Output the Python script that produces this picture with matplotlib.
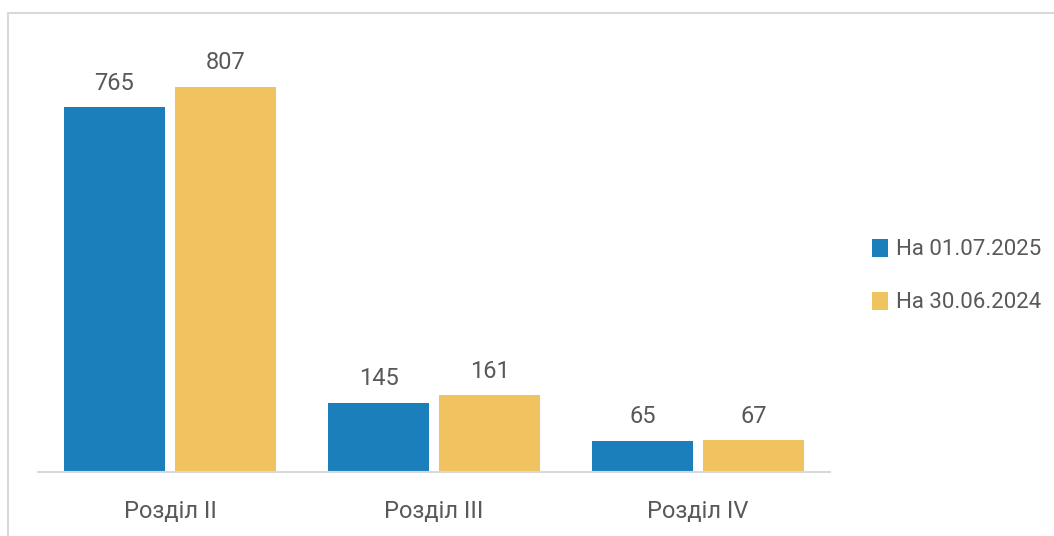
import matplotlib
matplotlib.use("Agg")
import matplotlib.pyplot as plt
from matplotlib.patches import Rectangle
import numpy as np

categories = ["Розділ II", "Розділ III", "Розділ IV"]
series_names = ["На 01.07.2025", "На 30.06.2024"]
values_2025 = [765, 145, 65]
values_2024 = [807, 161, 67]

colors = ["#1a7fba", "#f0c260"]
text_color = "#595959"
fonts = ["Roboto", "DejaVu Sans"]
plt.rcParams['font.family'] = fonts
plt.rcParams['font.stretch'] = 'condensed'

fig = plt.figure(figsize=(10.54, 5.36), dpi=100)
W, H = 1054, 536
# outer border
fig.add_artist(Rectangle((8 / W, -0.1), 1.2, (536 - 13) / H + 0.1, transform=fig.transFigure,
                         fill=False, edgecolor="#d9d9d9", linewidth=1.5))

ax = fig.add_axes([38 / W, (536 - 472) / H, 792 / W, 452 / H])
x = np.arange(len(categories))
bw = 0.383
off = 0.21
b1 = ax.bar(x - off, values_2025, bw, color=colors[0], label=series_names[0])
b2 = ax.bar(x + off, values_2024, bw, color=colors[1], label=series_names[1])
ax.set_xlim(-0.5, 2.5)
ax.set_ylim(0, 452 / 0.4771)
for bars in (b1, b2):
    for r in bars:
        ax.annotate(f"{int(r.get_height())}", (r.get_x() + r.get_width() / 2, r.get_height()),
                    xytext=(0, 9), textcoords="offset points", ha="center", va="bottom",
                    fontsize=17, color=text_color)
for s in ["top", "right", "left"]:
    ax.spines[s].set_visible(False)
ax.spines["bottom"].set_color("#d9d9d9")
ax.spines["bottom"].set_linewidth(1.5)
ax.set_yticks([])
ax.set_xticks(x)
ax.set_xticklabels(categories, fontsize=17, color=text_color)
ax.tick_params(axis="x", length=0, pad=20)

fig.legend(handles=[b1, b2], labels=series_names, loc="center left",
           bbox_to_anchor=(872 / W, 1 - 276 / H), frameon=False, fontsize=16,
           labelcolor=text_color, handlelength=0.7, handleheight=0.9, handletextpad=0.4,
           labelspacing=1.4, borderaxespad=0, borderpad=0)

fig.savefig("out.png", dpi=100, facecolor="white")
